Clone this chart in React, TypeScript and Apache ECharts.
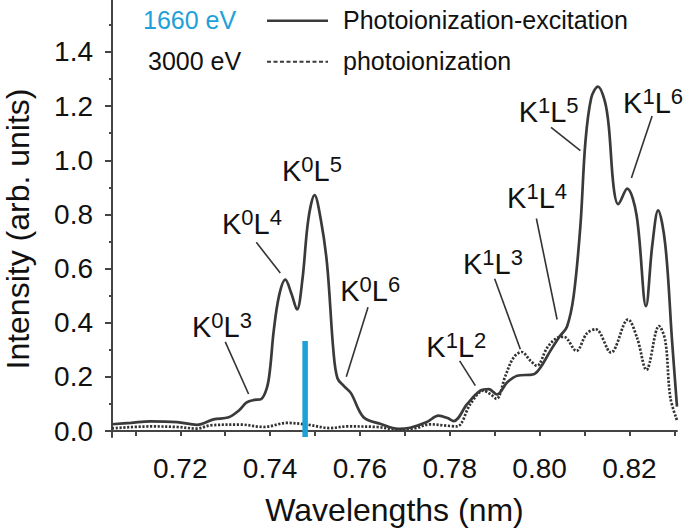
import React, { useEffect, useRef } from "react";
import * as echarts from "echarts";

// Photoionization-excitation (solid)
const excitationX = [
  0.7048, 0.709, 0.7133, 0.7193, 0.7237, 0.7274, 0.7308, 0.733, 0.7348, 0.7365, 0.738,
  0.7393, 0.74, 0.7408, 0.742, 0.7434, 0.7447, 0.746, 0.7472, 0.7485, 0.7499, 0.7513,
  0.7527, 0.7541, 0.755, 0.7565, 0.758, 0.7608, 0.7645, 0.7686, 0.7712, 0.7749, 0.7775,
  0.7795, 0.7809, 0.7839, 0.7868, 0.7887, 0.7905, 0.7928, 0.795, 0.7987, 0.8002, 0.8024,
  0.8045, 0.8061, 0.8076, 0.8091, 0.8102, 0.8115, 0.813, 0.8145, 0.8154, 0.8165, 0.8175,
  0.8195, 0.8216, 0.8237, 0.8251, 0.8264, 0.828, 0.8295, 0.8306,
];
const excitationY = [
  0.025, 0.03, 0.036, 0.033, 0.023, 0.043, 0.051, 0.075, 0.106, 0.115, 0.118,
  0.16, 0.23, 0.369, 0.5, 0.559, 0.51, 0.449, 0.56, 0.78, 0.871, 0.78,
  0.614, 0.296, 0.195, 0.165, 0.14, 0.051, 0.027, 0.008, 0.012, 0.033, 0.057,
  0.048, 0.037, 0.1, 0.149, 0.155, 0.135, 0.18, 0.204, 0.21, 0.235, 0.296,
  0.35, 0.385, 0.5, 0.76, 1.066, 1.23, 1.272, 1.22, 1.127, 0.9, 0.838,
  0.895, 0.797, 0.461, 0.687, 0.815, 0.687, 0.333, 0.09,
];

// Photoionization (dotted)
const ionizationX = [
  0.7048, 0.7133, 0.7193, 0.7237, 0.7267, 0.7334, 0.7386, 0.7438, 0.7482, 0.7534, 0.7571,
  0.7638, 0.7683, 0.772, 0.7757, 0.7786, 0.7816, 0.7846, 0.7875, 0.789, 0.7904, 0.7924,
  0.7942, 0.796, 0.798, 0.7994, 0.8017, 0.804, 0.8054, 0.8082, 0.8105, 0.8125, 0.8159,
  0.8197, 0.8217, 0.8238, 0.8266, 0.828, 0.8291, 0.8306,
];
const ionizationY = [
  0.01, 0.017, 0.015, 0.009, 0.021, 0.024, 0.015, 0.03, 0.024, 0.011, 0.017,
  0.015, 0.006, 0.009, 0.025, 0.021, 0.017, 0.1, 0.149, 0.137, 0.119, 0.204,
  0.271, 0.292, 0.259, 0.241, 0.308, 0.345, 0.348, 0.296, 0.36, 0.376, 0.29,
  0.412, 0.345, 0.226, 0.388, 0.333, 0.125, 0.04,
];

// 1660 eV marker
const markerX = 0.7478;
const markerTop = 0.333;

// axes
const xMin = 0.7048;
const xMax = 0.8306;
const yMin = -0.022;
const yMax = 1.592;
const xTickValues = [0.71, 0.72, 0.73, 0.74, 0.75, 0.76, 0.77, 0.78, 0.79, 0.8, 0.81, 0.82, 0.83];
const xLabelValues = [0.72, 0.74, 0.76, 0.78, 0.8, 0.82];
const yLabelValues = [0, 0.2, 0.4, 0.6, 0.8, 1.0, 1.2, 1.4];
const yMinorValues = [0.1, 0.3, 0.5, 0.7, 0.9, 1.1, 1.3, 1.5];

// annotations: K^a L^b, anchor (left, baseline) in data coords, leader line in data coords
const annotK = ["0", "0", "0", "0", "1", "1", "1", "1", "1"];
const annotL = ["3", "4", "5", "6", "2", "3", "4", "5", "6"];
const annotX = [0.72261, 0.72929, 0.74265, 0.75563, 0.77479, 0.78296, 0.79276, 0.79534, 0.81859];
const annotY = [0.3533, 0.7337, 0.9292, 0.4853, 0.2799, 0.5858, 0.8302, 1.1482, 1.1786];
const leaderFrom: (number[] | null)[] = [
  [0.73002, 0.3291], [0.73693, 0.697], null, [0.7618, 0.4574], [0.78221, 0.2594],
  [0.79, 0.5624], [0.79929, 0.785], [0.80256, 1.1214], [0.82506, 1.164],
];
const leaderTo: (number[] | null)[] = [
  [0.73521, 0.1368], [0.74227, 0.5833], null, [0.75697, 0.2007], [0.7857, 0.1676],
  [0.79572, 0.3019], [0.8039, 0.412], [0.80909, 1.0356], [0.82045, 0.9343],
];

const FONT = "'Liberation Sans', Arial, Helvetica, sans-serif";
const INK = "#111111";
const LINE = "#3a3a3a";
const BLUE = "#1ea0d8";

export default function App() {
  const ref = useRef<HTMLDivElement>(null);
  useEffect(() => {
    if (!ref.current) return;
    const chart = echarts.init(ref.current, undefined, { renderer: "svg" });
    const solid = excitationX.map((x, i) => [x, excitationY[i]]);
    const dotted = ionizationX.map((x, i) => [x, ionizationY[i]]);
    chart.setOption({
      animation: false,
      grid: { left: 112, right: 8, top: 0, bottom: 91, containLabel: false },
      xAxis: {
        type: "value",
        min: xMin,
        max: xMax,
        name: "Wavelengths (nm)",
        nameLocation: "middle",
        nameGap: 57,
        nameTextStyle: { fontFamily: FONT, fontSize: 32, color: INK },
        axisLine: { show: true, lineStyle: { color: "#444", width: 2 } },
        axisTick: { show: true, length: 5, customValues: xTickValues, lineStyle: { color: "#444", width: 2 } },
        axisLabel: {
          customValues: xLabelValues,
          margin: 17,
          fontFamily: FONT,
          fontSize: 28,
          color: INK,
          formatter: (v: number) => v.toFixed(2),
        },
        splitLine: { show: false },
      },
      yAxis: [
        {
          type: "value",
          position: "left",
          min: yMin,
          max: yMax,
          axisLine: { show: true, lineStyle: { color: "#444", width: 2 } },
          axisTick: { show: true, length: 7, customValues: yLabelValues, lineStyle: { color: "#444", width: 2 } },
          axisLabel: {
            customValues: yLabelValues,
            margin: 19,
            fontFamily: FONT,
            fontSize: 28,
            color: INK,
            formatter: (v: number) => v.toFixed(1),
          },
          splitLine: { show: false },
        },
        {
          type: "value",
          position: "left",
          min: yMin,
          max: yMax,
          axisLine: { show: false },
          axisTick: { show: true, length: 3, customValues: yMinorValues, lineStyle: { color: "#444", width: 2 } },
          axisLabel: { show: false },
          splitLine: { show: false },
        },
      ],
      series: [
        {
          name: "photoionization",
          type: "line",
          data: dotted,
          smooth: 0.35,
          symbol: "none",
          lineStyle: { color: "#333333", width: 2.7, type: [2.2, 1.6] },
          z: 2,
        },
        {
          name: "Photoionization-excitation",
          type: "line",
          data: solid,
          smooth: 0.35,
          symbol: "none",
          lineStyle: { color: LINE, width: 2.7 },
          z: 3,
        },
        {
          name: "1660 eV",
          type: "line",
          data: [[markerX, yMin], [markerX, markerTop]],
          symbol: "none",
          lineStyle: { color: BLUE, width: 5.5, cap: "butt" },
          z: 4,
        },
      ],
    });

    const px = (p: number[]) => chart.convertToPixel({ gridIndex: 0 }, p) as number[];
    const graphics: any[] = [];
    // legend
    graphics.push(
      { type: "text", x: 143, y: 20, style: { text: "1660 eV", fill: BLUE, fontSize: 25, fontFamily: FONT, verticalAlign: "middle", align: "left" } },
      { type: "text", x: 148, y: 61, style: { text: "3000 eV", fill: INK, fontSize: 25, fontFamily: FONT, verticalAlign: "middle", align: "left" } },
      { type: "line", shape: { x1: 267, y1: 20.7, x2: 328, y2: 20.7 }, style: { stroke: LINE, lineWidth: 2.5 } },
      { type: "line", shape: { x1: 267, y1: 61.7, x2: 328, y2: 61.7 }, style: { stroke: LINE, lineWidth: 2, lineDash: [4, 2.5] } },
      { type: "text", x: 343, y: 20, style: { text: "Photoionization-excitation", fill: INK, fontSize: 25, fontFamily: FONT, verticalAlign: "middle", align: "left" } },
      { type: "text", x: 343, y: 61, style: { text: "photoionization", fill: INK, fontSize: 25, fontFamily: FONT, verticalAlign: "middle", align: "left" } },
      { type: "text", x: 18, y: 229, rotation: Math.PI / 2, style: { text: "Intensity (arb. units)", fill: INK, fontSize: 32, fontFamily: FONT, verticalAlign: "middle", align: "center" } },
    );
    annotX.forEach((x, i) => {
      const p = px([x, annotY[i]]);
      graphics.push({
        type: "text",
        x: p[0],
        y: p[1] + 6,
        style: {
          text: `{m|K}{s|${annotK[i]}}{m|L}{s|${annotL[i]}}`,
          align: "left",
          verticalAlign: "bottom",
          rich: {
            m: { fontSize: 29, fontFamily: FONT, fill: INK, lineHeight: 32, verticalAlign: "bottom" },
            s: { fontSize: 22, fontFamily: FONT, fill: INK, verticalAlign: "bottom", padding: [0, 0, 10, 0] },
          },
        },
      });
      const f = leaderFrom[i];
      const t = leaderTo[i];
      if (f && t) {
        const a = px(f);
        const b = px(t);
        graphics.push({ type: "line", shape: { x1: a[0], y1: a[1], x2: b[0], y2: b[1] }, style: { stroke: "#333", lineWidth: 1.6 } });
      }
    });
    chart.setOption({ graphic: graphics });
    return () => chart.dispose();
  }, []);
  return (
    <div
      ref={ref}
      style={{ position: "fixed", left: 0, top: 0, width: 685, height: 531, background: "#fff" }}
    />
  );
}
